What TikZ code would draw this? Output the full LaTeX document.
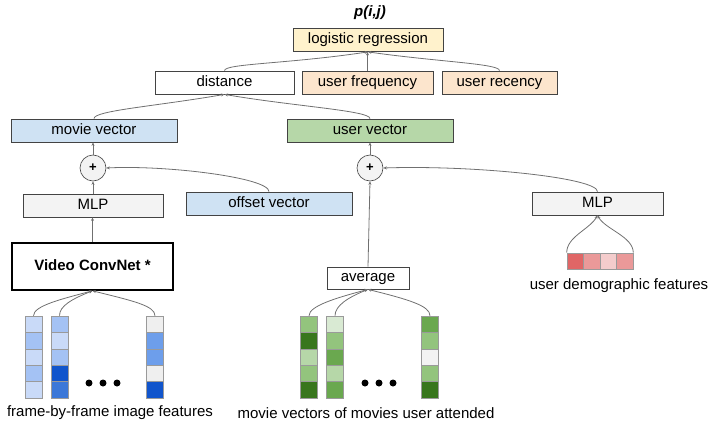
\documentclass[tikz,border=0pt]{standalone}
\usepackage{fontspec}
\setmainfont{Liberation Sans}
\usetikzlibrary{arrows.meta}
\definecolor{boxline}{HTML}{434343}
\definecolor{connline}{HTML}{707070}
\definecolor{cellline}{HTML}{9A9A9A}
\definecolor{lrfill}{HTML}{FFF2CC}
\definecolor{orfill}{HTML}{FCE5CD}
\definecolor{bluefill}{HTML}{CFE2F3}
\definecolor{greenfill}{HTML}{B6D7A8}
\definecolor{greyfill}{HTML}{F3F3F3}
% cell colours
\definecolor{bl1}{HTML}{C9DAF8}
\definecolor{bl2}{HTML}{A4C2F4}
\definecolor{bl3}{HTML}{6D9EEB}
\definecolor{bl4}{HTML}{3C78D8}
\definecolor{bl5}{HTML}{1155CC}
\definecolor{bl0}{HTML}{EFEFEF}
\definecolor{gr1}{HTML}{D9EAD3}
\definecolor{gr2}{HTML}{B6D7A8}
\definecolor{gr3}{HTML}{93C47D}
\definecolor{gr4}{HTML}{6AA84F}
\definecolor{gr5}{HTML}{38761D}
\definecolor{gr0}{HTML}{F3F3F3}
\definecolor{rd1}{HTML}{E06666}
\definecolor{rd2}{HTML}{EA9999}
\definecolor{rd3}{HTML}{F4CCCC}

\begin{document}
\begin{tikzpicture}[x=1pt,y=1pt]
    \tikzset{%
      box/.style={rectangle, draw=boxline, line width=0.8pt, inner sep=0pt,
        minimum height=23pt, text height=10.7pt, text depth=3.2pt,
        font=\fontsize{15}{18}\selectfont},
      plus/.style={circle, draw=boxline, fill=greyfill, line width=0.6pt,
        inner sep=0pt, minimum size=26pt, font=\fontsize{13}{15}\selectfont\bfseries},
      cell/.style={rectangle, draw=cellline, line width=0.6pt, inner sep=0pt,
        minimum width=17pt, minimum height=16.4pt},
      rcell/.style={rectangle, draw=cellline, line width=0.6pt, inner sep=0pt,
        minimum width=16.5pt, minimum height=16pt},
      conn/.style={draw=connline, line width=0.8pt,
        -{Stealth[length=3.5pt,width=3pt]}},
      label/.style={font=\fontsize{15}{18}\selectfont},
    }
    \useasboundingbox (0,0) rectangle (720,-428);

    % top
    \node[font=\fontsize{15}{18}\selectfont\bfseries\itshape] (prob) at (370,-13) {p(i,j)};
    \node[box, fill=lrfill, minimum width=150pt] (logreg) at (368,-40) {logistic regression};
    \node[box, fill=white, minimum width=139pt] (dist) at (224.5,-82.5) {distance};
    \node[box, fill=orfill, minimum width=131pt] (ufreq) at (367.5,-82.5) {user frequency};
    \node[box, fill=orfill, minimum width=115pt] (urec) at (499.5,-82.5) {user recency};

    % vectors
    \node[box, fill=bluefill, minimum width=166pt] (mvec) at (94,-130.5) {movie vector};
    \node[box, fill=greenfill, minimum width=166pt] (uvec) at (370,-130.5) {user vector};
    \node[plus] (plusL) at (93,-168) {+};
    \node[plus] (plusR) at (370,-168) {+};

    % left branch
    \node[box, fill=greyfill, minimum width=140pt] (mlpL) at (93,-205.5) {MLP};
    \node[box, fill=bluefill, minimum width=166pt] (offv) at (269,-203.5) {offset vector};
    \node[box, fill=white, line width=1.6pt, draw=black, minimum width=161pt,
      minimum height=47pt] (conv) at (92.5,-266.5) {\bfseries Video ConvNet *};

    % right branch
    \node[box, fill=greyfill, minimum width=131pt] (mlpR) at (597.5,-203.5) {MLP};
    \node[box, fill=white, minimum width=82pt, minimum height=22pt] (avg) at (368,-278) {average};

    % user demographic features
    \foreach \c [count=\i] in {rd1,rd2,rd3,rd2}
      \node[rcell, fill=\c] (d\i) at ({558.75+16.5*\i},-261) {};
    \node[label] (demo) at (619,-286) {user demographic features};

    % frame features
    \foreach \c [count=\i] in {bl1,bl2,bl1,bl2,bl1}
      \node[cell, fill=\c] (fa\i) at (33.5,{-324.2-16.4*(\i-1)}) {};
    \foreach \c [count=\i] in {bl2,bl1,bl2,bl5,bl4}
      \node[cell, fill=\c] (fb\i) at (59.5,{-324.2-16.4*(\i-1)}) {};
    \foreach \c [count=\i] in {bl0,bl3,bl3,bl0,bl5}
      \node[cell, fill=\c] (fc\i) at (155,{-324.2-16.4*(\i-1)}) {};
    \foreach \x in {89,103,117}
      \fill (\x,-383) circle (3.5);
    \node[label] (flabel) at (110,-413) {frame-by-frame image features};

    % movie vectors
    \foreach \c [count=\i] in {gr3,gr5,gr2,gr3,gr5}
      \node[cell, fill=\c] (ma\i) at (309,{-324.2-16.4*(\i-1)}) {};
    \foreach \c [count=\i] in {gr1,gr3,gr4,gr2,gr4}
      \node[cell, fill=\c] (mb\i) at (335,{-324.2-16.4*(\i-1)}) {};
    \foreach \c [count=\i] in {gr4,gr3,gr0,gr3,gr5}
      \node[cell, fill=\c] (mc\i) at (430,{-324.2-16.4*(\i-1)}) {};
    \foreach \x in {365,379,393}
      \fill (\x,-383) circle (3.5);
    \node[label] (mlabel) at (366,-413) {movie vectors of movies user attended};

    % connectors
    \draw[conn] (dist.north) .. controls +(0,7) and +(-80,-12) .. (logreg.south);
    \draw[conn] (ufreq.north) -- (ufreq.north |- logreg.south);
    \draw[conn] (urec.north) .. controls +(0,7) and +(70,-10) .. (logreg.south);
    \draw[conn] (mvec.north) .. controls +(0,8) and +(-70,-12) .. (dist.south);
    \draw[conn] (uvec.north) .. controls +(0,8) and +(70,-12) .. (dist.south);
    \draw[conn] (plusL.north) -- (mvec.south -| plusL.north);
    \draw[conn] (plusR.north) -- (uvec.south -| plusR.north);
    \draw[conn] (mlpL.north) -- (plusL.south);
    \draw[conn] (offv.north) .. controls +(0,14) and +(60,3) .. (plusL.east);
    \draw[conn] (conv.north) -- (mlpL.south -| conv.north);
    \draw[conn] (avg.north) -- (plusR.south);
    \draw[conn] (mlpR.north) .. controls +(0,14) and +(90,3) .. (plusR.east);
    \draw[conn] (d1.north west) .. controls +(0,16) and +(-8,-14) .. (mlpR.south);
    \draw[conn] (d4.north east) .. controls +(0,16) and +(8,-14) .. (mlpR.south);
    \draw[conn] (fa1.north) .. controls +(0,10) and +(-30,-8) .. (conv.south);
    \draw[conn] (fb1.north) .. controls +(0,10) and +(-20,-8) .. (conv.south);
    \draw[conn] (fc1.north) .. controls +(0,10) and +(40,-10) .. (conv.south);
    \draw[conn] (ma1.north) .. controls +(0,10) and +(-30,-8) .. (avg.south);
    \draw[conn] (mb1.north) .. controls +(0,10) and +(-20,-8) .. (avg.south);
    \draw[conn] (mc1.north) .. controls +(0,10) and +(40,-10) .. (avg.south);
\end{tikzpicture}
\end{document}
